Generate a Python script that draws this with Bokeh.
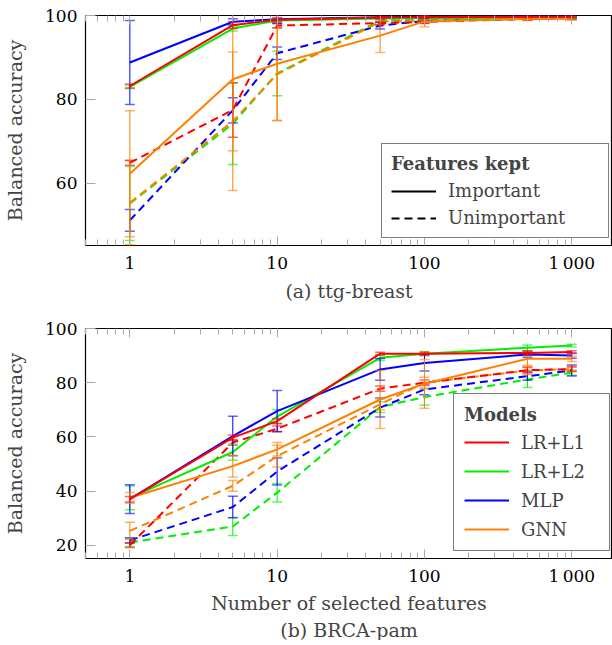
from bokeh.plotting import figure
from bokeh.layouts import column
from bokeh.models import FixedTicker, Legend, LegendItem, Title, Range1d, LogAxis
from bokeh.embed import file_html
from bokeh.resources import INLINE

# ---------------- data ----------------
n_features = [1, 5, 10, 50, 100, 500, 1000]
models = ["LR+L1", "LR+L2", "MLP", "GNN"]
model_colors = ["#ff0000", "#00ee00", "#0000ff", "#ff8000"]

# (a) ttg-breast, important features kept
ttg_imp_lr1 = [83.2, 97.7, 99.0, 99.5, 99.6, 99.7, 99.7]
ttg_imp_lr2 = [83.0, 96.9, 98.8, 99.3, 99.4, 99.5, 99.5]
ttg_imp_mlp = [88.8, 98.5, 99.1, 99.6, 99.7, 99.8, 99.8]
ttg_imp_gnn = [62.3, 84.8, 88.5, 95.2, 98.6, 99.2, 99.3]
ttg_imp_lr1_err = [0.5, 0.8, 0.5, 0.3, 0.3, 0.2, 0.2]
ttg_imp_lr2_err = [0.4, 0.6, 0.5, 0.3, 0.3, 0.2, 0.2]
ttg_imp_mlp_err = [10.0, 0.7, 1.0, 0.3, 0.3, 0.2, 0.2]
ttg_imp_gnn_err = [15.0, 17.0, 13.5, 4.0, 1.3, 0.4, 0.4]
# (a) ttg-breast, unimportant features kept
ttg_uni_lr1 = [64.9, 77.5, 97.6, 98.2, 98.5, 99.2, 99.4]
ttg_uni_lr2 = [55.2, 74.2, 86.2, 98.8, 99.0, 99.3, 99.4]
ttg_uni_mlp = [51.2, 77.4, 91.0, 97.6, 98.7, 99.2, 99.4]
ttg_uni_gnn = [55.4, 74.8, 86.0, 98.5, 98.8, 99.2, 99.3]
ttg_uni_lr1_err = [0.6, 6.5, 0.5, 0.4, 0.4, 0.3, 0.3]
ttg_uni_lr2_err = [8.8, 9.7, 5.3, 0.4, 0.4, 0.3, 0.3]
ttg_uni_mlp_err = [2.6, 3.0, 1.5, 0.8, 0.5, 0.3, 0.3]
ttg_uni_gnn_err = [10.0, 16.5, 11.0, 0.6, 0.5, 0.3, 0.3]

# (b) BRCA-pam, important features kept
brca_imp_lr1 = [37.0, 59.7, 65.8, 90.7, 90.7, 91.0, 91.3]
brca_imp_lr2 = [37.5, 54.4, 67.5, 89.2, 90.7, 92.9, 93.7]
brca_imp_mlp = [37.0, 60.3, 69.5, 84.9, 87.3, 90.4, 90.0]
brca_imp_gnn = [37.5, 49.2, 55.4, 73.8, 79.6, 88.8, 88.8]
brca_imp_lr1_err = [1.0, 1.0, 1.0, 0.5, 0.5, 0.8, 0.5]
brca_imp_lr2_err = [4.4, 3.0, 2.5, 1.0, 0.8, 1.0, 0.5]
brca_imp_mlp_err = [5.3, 7.3, 7.6, 4.0, 3.0, 1.0, 1.0]
brca_imp_gnn_err = [2.0, 4.0, 2.5, 10.7, 9.0, 2.5, 1.0]
# (b) BRCA-pam, unimportant features kept
brca_uni_lr1 = [20.0, 57.9, 63.0, 77.8, 80.0, 84.6, 85.0]
brca_uni_lr2 = [21.0, 26.9, 39.4, 71.0, 74.7, 81.2, 83.7]
brca_uni_mlp = [21.8, 34.1, 47.2, 70.8, 77.5, 82.4, 84.5]
brca_uni_gnn = [25.3, 41.9, 52.9, 72.0, 80.0, 84.5, 85.0]
brca_uni_lr1_err = [0.8, 1.0, 1.0, 1.0, 1.0, 1.0, 0.8]
brca_uni_lr2_err = [1.5, 3.3, 3.4, 2.0, 3.0, 3.0, 1.0]
brca_uni_mlp_err = [1.0, 4.0, 5.0, 3.5, 2.0, 1.5, 2.0]
brca_uni_gnn_err = [3.2, 2.0, 4.0, 2.0, 2.0, 1.5, 1.0]

x_tick_values = [1, 10, 100, 1000]
x_tick_labels = ["1", "10", "100", "1\u2009000"]
ttg_y_ticks = [60, 80, 100]
brca_y_ticks = [20, 40, 60, 80, 100]

FONT = "DejaVu Serif"
TICK_GRAY = "#aaaaaa"
DASH = "8 5"


def minor_log_ticks():
    vals = []
    for dec in [0.1, 1, 10, 100, 1000]:
        for m in range(2, 10):
            vals.append(m * dec)
    return vals


def make_panel(imp, imp_err, uni, uni_err, y_lo, y_ticks, caption, xlabel, min_top):
    p = figure(frame_width=527, frame_height=230,
               x_axis_type="log", x_range=Range1d(0.5, 1890), y_range=Range1d(y_lo, 100),
               output_backend="svg", toolbar_location=None,
               min_border_left=85, min_border_right=0, min_border_top=min_top,
               min_border_bottom=0)
    p.grid.visible = False
    p.outline_line_color = "black"
    p.outline_line_width = 1.2
    p.background_fill_color = "white"
    p.border_fill_color = "white"

    ax = p.xaxis[0]
    ax.ticker = FixedTicker(ticks=x_tick_values, minor_ticks=minor_log_ticks())
    ax.major_label_overrides = {v: l for v, l in zip(x_tick_values, x_tick_labels)}
    ax.major_label_text_font = FONT
    ax.major_label_text_font_size = "17px"
    ax.major_label_text_color = "black"
    ax.major_label_standoff = 7
    ax.axis_line_color = None
    ax.major_tick_in = 9
    ax.major_tick_out = 0
    ax.minor_tick_in = 6
    ax.minor_tick_out = 0
    ax.major_tick_line_color = TICK_GRAY
    ax.minor_tick_line_color = TICK_GRAY
    if xlabel:
        ax.axis_label = xlabel
        ax.axis_label_text_font = FONT
        ax.axis_label_text_font_size = "19px"
        ax.axis_label_text_font_style = "normal"
        ax.axis_label_standoff = 3

    # mirrored ticks along the top edge (no labels)
    top_axis = LogAxis(ticker=FixedTicker(ticks=x_tick_values, minor_ticks=minor_log_ticks()),
                       major_label_text_font_size="1px", major_label_text_alpha=0.0,
                       major_label_standoff=0, axis_line_color=None,
                       major_tick_in=9, major_tick_out=0, minor_tick_in=6, minor_tick_out=0,
                       major_tick_line_color=TICK_GRAY, minor_tick_line_color=TICK_GRAY)
    p.add_layout(top_axis, "above")

    ay = p.yaxis[0]
    ay.ticker = FixedTicker(ticks=y_ticks)
    ay.minor_tick_line_color = None
    ay.major_label_text_font = FONT
    ay.major_label_text_font_size = "17px"
    ay.major_label_text_color = "black"
    ay.major_label_standoff = 8
    ay.axis_line_color = None
    ay.major_tick_in = 10
    ay.major_tick_out = 0
    ay.major_tick_line_color = TICK_GRAY
    ay.axis_label = "Balanced accuracy"
    ay.axis_label_text_font = FONT
    ay.axis_label_text_font_size = "19px"
    ay.axis_label_text_font_style = "normal"
    ay.axis_label_standoff = 16

    order = [1, 2, 3, 0]
    for means, errs, dash in [(uni, uni_err, DASH), (imp, imp_err, "solid")]:
        for i in order:
            c = model_colors[i]
            m = means[i]
            e = errs[i]
            up = [a + b for a, b in zip(m, e)]
            lo = [a - b for a, b in zip(m, e)]
            p.segment(x0=n_features, y0=lo, x1=n_features, y1=up, line_color=c, line_width=1)
            p.scatter(x=n_features, y=up, marker="dash", size=10, line_color=c,
                      line_alpha=0.6, line_width=1.5)
            p.scatter(x=n_features, y=lo, marker="dash", size=10, line_color=c,
                      line_alpha=0.6, line_width=1.5)
            p.line(x=n_features, y=m, line_color=c, line_width=2, line_dash=dash)

    p.add_layout(Title(text=caption, align="center", text_font=FONT,
                       text_font_size="19px", text_font_style="normal",
                       standoff=0 if xlabel else 4), "below")
    return p


p1 = make_panel([ttg_imp_lr1, ttg_imp_lr2, ttg_imp_mlp, ttg_imp_gnn],
                [ttg_imp_lr1_err, ttg_imp_lr2_err, ttg_imp_mlp_err, ttg_imp_gnn_err],
                [ttg_uni_lr1, ttg_uni_lr2, ttg_uni_mlp, ttg_uni_gnn],
                [ttg_uni_lr1_err, ttg_uni_lr2_err, ttg_uni_mlp_err, ttg_uni_gnn_err],
                45.2, ttg_y_ticks, "(a) ttg-breast", None, 15)

r_imp = p1.line(x=[0.1, 0.2], y=[0, 0], line_color="black", line_width=2)
r_uni = p1.line(x=[0.1, 0.2], y=[0, 0], line_color="black", line_width=2, line_dash=DASH)
leg1 = Legend(items=[LegendItem(label="Important", renderers=[r_imp]),
                     LegendItem(label="Unimportant", renderers=[r_uni])],
              title="Features kept", location=(296, 7))
p2 = make_panel([brca_imp_lr1, brca_imp_lr2, brca_imp_mlp, brca_imp_gnn],
                [brca_imp_lr1_err, brca_imp_lr2_err, brca_imp_mlp_err, brca_imp_gnn_err],
                [brca_uni_lr1, brca_uni_lr2, brca_uni_mlp, brca_uni_gnn],
                [brca_uni_lr1_err, brca_uni_lr2_err, brca_uni_mlp_err, brca_uni_gnn_err],
                15.1, brca_y_ticks, "(b) BRCA-pam", "Number of selected features", 25)

model_renderers = [p2.line(x=[0.1, 0.2], y=[0, 0], line_color=c, line_width=2) for c in model_colors]
leg2 = Legend(items=[LegendItem(label=m, renderers=[r]) for m, r in zip(models, model_renderers)],
              title="Models", location=(368, 7))

for leg, lw, lh, sp, pad in [(leg1, 151, 21, 6, 9), (leg2, 78, 22, 7, 10)]:
    leg.title_text_font = FONT
    leg.title_text_font_style = "bold"
    leg.title_text_font_size = "18px"
    leg.title_standoff = 6
    leg.label_text_font = FONT
    leg.label_text_font_size = "18px"
    leg.glyph_width = 45
    leg.label_standoff = 12
    leg.label_width = lw
    leg.label_height = lh
    leg.spacing = sp
    leg.padding = pad
    leg.border_line_color = "black"
    leg.border_line_width = 1.2
    leg.background_fill_alpha = 1.0

p1.add_layout(leg1, "center")
p2.add_layout(leg2, "center")

layout = column(p1, p2, spacing=0)
open("out.html", "w").write(file_html(layout, INLINE))
